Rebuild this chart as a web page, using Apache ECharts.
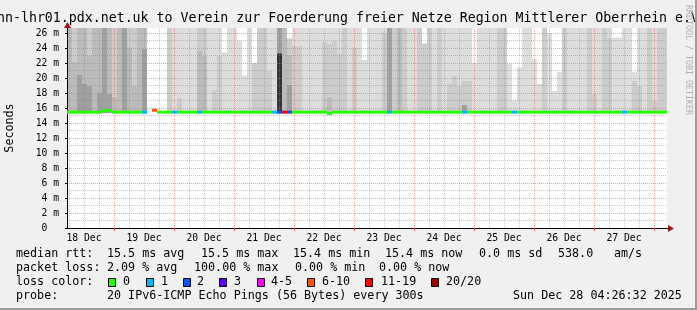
<!DOCTYPE html>
<html><head><meta charset="utf-8">
<script src="https://cdn.jsdelivr.net/npm/echarts@6/dist/echarts.min.js"></script>
<style>html,body{margin:0;padding:0;background:#f0f0f0}#c{width:697px;height:310px}</style>
</head><body><div id="c"></div>
<script>
// ---- time axis (hours since 18 Dec 00:00) ----
const timeStart = 5.2;
const binHours = 2;
const dayLabels = ['18 Dec','19 Dec','20 Dec','21 Dec','22 Dec','23 Dec','24 Dec','25 Dec','26 Dec','27 Dec'];
const labelHours = [12,36,60,84,108,132,156,180,204,228];
const midnightHours = [24,48,72,96,120,144,168,192,216,240];

// ---- smoke layers: top of each gray band (ms), 120 bins of 2 h; 0 = no band ----
const smokeT1 = [ // outermost (lightest)
 30,30,30,30,30,30,30,30,30,30,
 30,30,30,30,30,30,null,null,null,null,
 30,30,30,30,30,30,30,30,30,30,
 30,23.4,30,30,25,20.3,30,22,30,30,
 30,30,30,30,25.3,30,30,30,30,30,
 30,30,30,30,30,30,30,30,30,22.4,
 30,30,30,30,30,30,30,30,30,30,
 30,24.6,30,30,30,30,30,30,30,30,
 30,22,30,30,30,30,30,30,21.9,17,
 21.4,30,30,22.5,19.2,30,26,18.3,20.8,30,
 30,30,30,30,30,30,30,30,30,25.4,
 25.4,30,30,20.8,30,30,30,30,30,30];
const smokeT2 = [
 30,30,30,30,30,30,30,30,30,30,
 30,30,30,30,30,30,0,0,0,0,
 30,0,17.4,0,0,0,30,30,0,18.5,
 23,0,0,0,0,0,0,22,30,30,
 21,0,30,30,25.3,24.3,24.3,0,0,0,
 0,24.8,24.6,25,23.2,30,0,24.1,0,0,
 0,0,0,26,30,30,30,30,0,0,
 30,24.6,30,0,30,0,19.3,20.3,19,19.6,
 19.6,0,0,0,0,0,30,30,0,0,
 0,0,0,0,0,30,0,0,0,30,
 0,0,0,0,30,17.9,0,30,25.4,0,
 0,0,0,19.6,19,0,30,17,30,30];
const smokeT3 = [
 30,22.2,30,30,23.1,30,30,30,30,17.5,
 30,30,24,19,30,30,0,0,0,0,
 0,0,0,0,0,0,23.6,23,0,0,
 0,0,0,0,0,0,0,0,0,0,
 0,0,30,30,23.1,0,0,0,0,0,
 0,0,17.5,0,0,0,0,0,0,0,
 0,0,0,0,30,0,30,0,0,0,
 0,0,0,0,0,0,0,0,0,0,
 0,0,0,0,0,0,0,0,0,0,
 0,0,0,0,0,0,0,0,0,0,
 0,0,0,0,0,0,0,0,0,0,
 0,0,0,0,0,0,0,0,0,0];
const smokeT4 = [
 0,0,20.5,19.2,19,0,18.1,30,17.9,0,
 0,30,0,0,0,23.9,0,0,0,0,
 0,0,0,0,0,0,0,0,0,0,
 0,0,0,0,0,0,0,0,0,0,
 0,0,30,0,19.1,0,0,0,0,0,
 0,0,0,0,0,0,0,0,0,0,
 0,0,0,0,30,0,0,0,0,0,
 0,0,0,0,0,0,0,0,0,16.4,
 0,0,0,0,0,0,0,0,0,0,
 0,0,0,0,0,0,0,0,0,0,
 0,0,0,0,0,0,0,0,0,0,
 0,0,0,0,0,0,0,0,0,0];
const smokeT5 = [ // innermost (darkest)
 0,0,0,0,0,0,0,0,0,0,
 0,0,0,0,0,0,0,0,0,0,
 0,0,0,0,0,0,0,0,0,0,
 0,0,0,0,0,0,0,0,0,0,
 0,0,23.3,0,0,0,0,0,0,0,
 0,0,0,0,0,0,0,0,0,0,
 0,0,0,0,0,0,0,0,0,0,
 0,0,0,0,0,0,0,0,0,0,
 0,0,0,0,0,0,0,0,0,0,
 0,0,0,0,0,0,0,0,0,0,
 0,0,0,0,0,0,0,0,0,0,
 0,0,0,0,0,0,0,0,0,0];
const smokeBase = 15.3;

// ---- median rtt (ms) and lost pings (of 20) per bin ----
const medianVals = [
 15.45,15.45,15.45,15.45,15.45,15.45,15.45,15.65,15.65,15.45,
 15.45,15.45,15.45,15.45,15.45,15.45,null,15.7,15.45,15.45,
 15.45,15.45,15.45,15.45,15.45,15.45,15.45,15.45,15.45,15.45,
 15.45,15.45,15.45,15.45,15.45,15.45,15.45,15.45,15.45,15.45,
 15.45,15.45,15.45,15.45,15.45,15.45,15.45,15.45,15.45,15.45,
 15.45,15.45,15.25,15.45,15.45,15.45,15.45,15.45,15.45,15.45,
 15.45,15.45,15.45,15.45,15.45,15.45,15.45,15.45,15.45,15.45,
 15.45,15.45,15.45,15.45,15.45,15.45,15.45,15.45,15.45,15.45,
 15.45,15.45,15.45,15.45,15.45,15.45,15.45,15.45,15.45,15.45,
 15.45,15.45,15.45,15.45,15.45,15.45,15.45,15.45,15.45,15.45,
 15.45,15.45,15.45,15.45,15.45,15.45,15.45,15.45,15.45,15.45,
 15.45,15.45,15.45,15.45,15.45,15.45,15.45,15.45,15.45,15.45];
const lossVals = [
 0,0,0,0,0,0,0,0,0,0,
 0,0,0,0,0,1,0,8,0,0,
 0,1,0,0,0,0,1,0,0,0,
 0,0,0,0,0,0,0,0,0,0,
 0,1,2,15,2,0,0,0,0,0,
 0,0,0,0,0,0,0,0,0,0,
 0,0,0,0,1,0,0,0,0,0,
 0,0,0,0,0,0,0,0,0,1,
 0,0,0,0,0,0,0,0,0,1,
 0,0,0,0,0,0,0,0,0,0,
 0,0,0,0,0,0,0,0,0,0,
 0,1,0,0,0,0,0,0,0,0];

// ---- legend ----
const lossLabels = ['0','1','2','3','4-5','6-10','11-19','20/20'];
const lossColors = ['#26ff00','#00b8ff','#0059ff','#5e00ff','#ff00ff','#ff5500','#ff0000','#a10000'];
const statsRtt = ['median rtt:','15.5 ms avg','15.5 ms max','15.4 ms min','15.4 ms now','0.0 ms sd','538.0','am/s'];
const statsLoss = ['packet loss:','2.09 % avg','100.00 % max','0.00 % min','0.00 % now'];
const probeText = ['probe:','20 IPv6-ICMP Echo Pings (56 Bytes) every 300s','Sun Dec 28 04:26:32 2025'];
const titleText = 'nn-lhr01.pdx.net.uk to Verein zur Foerderung freier Netze Region Mittlerer Oberrhein e.V.';

const yMax = 26.667;
const xMax = timeStart + medianVals.length*binHours;
const MONO = '"DejaVu Sans Mono", monospace';
const smokeColors = ['#333333','#a0a0a0','#bbbbbb','#cccccc','#dddddd'];
const ARROW = '#9a1515';

function lossClass(l){
  if (l <= 0) return 0; if (l === 1) return 1; if (l === 2) return 2; if (l === 3) return 3;
  if (l <= 5) return 4; if (l <= 10) return 5; if (l <= 19) return 6; return 7;
}

const smokeData = smokeT1.map((t1,k)=>[timeStart+k*binHours, timeStart+(k+1)*binHours, smokeBase,
  smokeT5[k], smokeT4[k], smokeT3[k], smokeT2[k], t1]);
const medianData = medianVals.map((m,k)=>[timeStart+k*binHours, timeStart+(k+1)*binHours, m, lossVals[k]]);
const gridHours = [];
for (let h = 6; h < xMax; h += 6) gridHours.push([h, 0]);

function renderSmoke(params, api){
  const top = api.value(7);
  if (isNaN(top)) return;
  const x0 = api.value(0), x1 = api.value(1);
  let prev = api.value(2);
  const children = [];
  for (let i = 0; i < 5; i++){
    const t = api.value(3+i);
    if (isNaN(t) || t <= prev) continue;
    const lo = Math.min(prev, yMax), hi = Math.min(t, yMax);
    if (hi > lo){
      const a = api.coord([x0, lo]), b = api.coord([x1, hi]);
      children.push({type:'rect', shape:{x:a[0], y:b[1], width:b[0]-a[0], height:a[1]-b[1]}, style:{fill:smokeColors[i]}});
    }
    prev = t;
  }
  return {type:'group', children};
}
function renderMedian(params, api){
  const m = api.value(2);
  if (isNaN(m)) return;
  const a = api.coord([api.value(0), m]), b = api.coord([api.value(1), m]);
  return {type:'rect', shape:{x:a[0], y:a[1]-1.5, width:b[0]-a[0], height:3},
    style:{fill: lossColors[lossClass(api.value(3))]}};
}
function renderGrid(params, api){
  const h = api.value(0);
  const a = api.coord([h, 0]), b = api.coord([h, yMax]);
  const x = Math.round(a[0]) + 0.5;
  const major = h % 24 === 0;
  return {type:'line', shape:{x1:x, y1:a[1], x2:x, y2:b[1]},
    style:{stroke: major ? 'rgba(255,90,90,0.6)' : 'rgba(130,130,130,0.45)', lineWidth:1, lineDash:[1,1]}};
}

const graphics = [];
function txt(x, y, s, opt){
  graphics.push({type:'text', x, y, style:Object.assign({text:s, font:'11.7px '+MONO, fill:'#000', textVerticalAlign:'middle'}, opt||{})});
}
// title
graphics.push({type:'text', x:-3, y:19, style:{text:titleText, font:'13.25px '+MONO, fill:'#000', textVerticalAlign:'middle'}});
// y axis name
graphics.push({type:'text', x:10, y:128, rotation:Math.PI/2, style:{text:'Seconds', font:'11.7px '+MONO, fill:'#000', textAlign:'center', textVerticalAlign:'middle'}});
// watermark
graphics.push({type:'text', x:688, y:60, rotation:-Math.PI/2, style:{text:'RRDTOOL / TOBI OETIKER', font:'8.3px '+MONO, fill:'#b0b0b0', textAlign:'center', textVerticalAlign:'middle'}});
// legend rows
const rttX = [16,107,201,293,385,479,558,614];
statsRtt.forEach((s,i)=>txt(rttX[i], 254, s));
const lossX = [16,107,194,295,379];
statsLoss.forEach((s,i)=>txt(lossX[i], 268, s));
txt(16, 282, 'loss color:');
const boxX = [108,146,183,219,257,307,365,431];
const boxLabelX = [123,161,197,234,271,322,381,446];
lossLabels.forEach((s,i)=>{
  graphics.push({type:'rect', shape:{x:boxX[i]+0.5, y:278.5, width:7, height:8}, style:{fill:lossColors[i], stroke:'#000', lineWidth:1}});
  txt(boxLabelX[i], 282, s);
});
const probeX = [16,107,513];
probeText.forEach((s,i)=>txt(probeX[i], 296, s));
// frame
graphics.push({type:'rect', shape:{x:0, y:308, width:697, height:2}, style:{fill:'#9c9c9c'}});
graphics.push({type:'rect', shape:{x:695, y:0, width:2, height:310}, style:{fill:'#9c9c9c'}});

const chart = echarts.init(document.getElementById('c'), null, {renderer:'canvas'});
chart.setOption({
  animation:false,
  backgroundColor:'#f0f0f0',
  grid:{left:67, top:28, width:600, height:200, show:true, backgroundColor:'#ffffff', borderWidth:0, containLabel:false},
  xAxis:{type:'value', min:timeStart, max:xMax, z:4,
    axisLine:{show:true, onZero:false, lineStyle:{color:'#000', width:1}},
    axisTick:{show:true, customValues:midnightHours, length:3, lineStyle:{color:'#e06060'}},
    axisLabel:{customValues:labelHours, formatter:v=>dayLabels[labelHours.indexOf(v)]||'', fontFamily:MONO, fontSize:9.7, color:'#000', margin:5},
    splitLine:{show:false}},
  yAxis:{type:'value', min:0, max:yMax, interval:2, z:3,
    axisLine:{show:true, lineStyle:{color:'#000', width:1}},
    axisTick:{show:true, length:2, lineStyle:{color:'#000'}},
    axisLabel:{fontFamily:MONO, fontSize:9.7, color:'#000', margin:8, showMaxLabel:false,
      formatter:v=> v===0 ? '0  ' : (Math.abs(v-Math.round(v))<1e-6 ? v+' m' : '')},
    splitLine:{show:true, showMaxLine:false, showMinLine:false, lineStyle:{color:'rgba(255,90,90,0.6)', type:[1,1], width:1}},
    minorTick:{show:false, splitNumber:2},
    minorSplitLine:{show:true, lineStyle:{color:'rgba(130,130,130,0.45)', type:[1,1], width:1}}},
  series:[
    {type:'custom', name:'smoke', z:1, renderItem:renderSmoke, data:smokeData, encode:{x:[0,1], y:[2]}, silent:true},
    {type:'custom', name:'grid', z:3, renderItem:renderGrid, data:gridHours, encode:{x:0, y:1}, silent:true},
    {type:'custom', name:'median', z:5, renderItem:renderMedian, data:medianData, encode:{x:[0,1], y:2}, silent:true}
  ],
  graphic:graphics
});

// axis arrows placed from the axes' own scales
const pEnd = chart.convertToPixel({gridIndex:0}, [xMax, 0]);
const pTop = chart.convertToPixel({gridIndex:0}, [timeStart, yMax]);
const ex = Math.round(pEnd[0]), ey = Math.round(pEnd[1]) + 0.5;
const tx = Math.round(pTop[0]) + 0.5, ty = Math.round(pTop[1]);
graphics.push({type:'line', shape:{x1:ex, y1:ey, x2:ex+2, y2:ey}, style:{stroke:'#000', lineWidth:1}, z:10});
graphics.push({type:'polygon', shape:{points:[[ex+1, ey-3.5],[ex+7, ey],[ex+1, ey+3.5]]}, style:{fill:ARROW}, z:10});
graphics.push({type:'line', shape:{x1:tx, y1:ty, x2:tx, y2:ty-1}, style:{stroke:'#000', lineWidth:1}, z:10});
graphics.push({type:'polygon', shape:{points:[[tx-3.5, ty],[tx, ty-6],[tx+3.5, ty]]}, style:{fill:ARROW}, z:10});
chart.setOption({graphic:graphics});
</script></body></html>
